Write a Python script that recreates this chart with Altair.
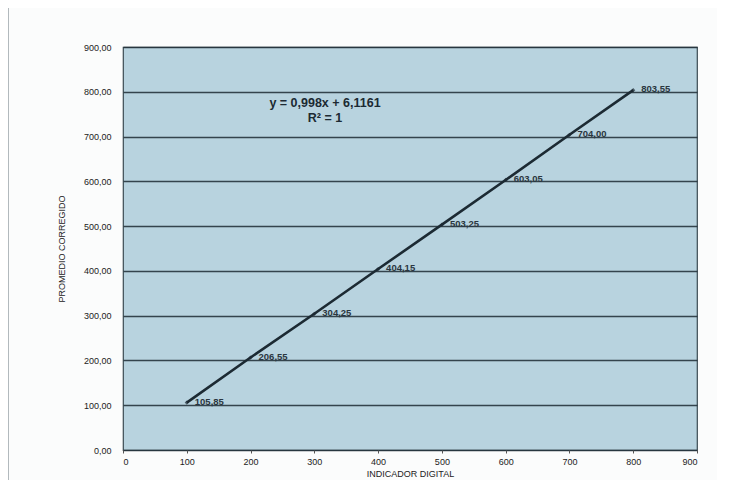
import altair as alt
import pandas as pd

indicador = [100, 200, 300, 400, 500, 600, 700, 800]
promedio = [105.85, 206.55, 304.25, 404.15, 503.25, 603.05, 704.00, 803.55]
etiquetas = ["105,85", "206,55", "304,25", "404,15", "503,25", "603,05", "704,00", "803,55"]
ecuacion = ["y = 0,998x + 6,1161", "R² = 1"]

df = pd.DataFrame({"x": indicador, "y": promedio, "lab": etiquetas})

FONT = "Liberation Sans"
DARK = "#1c2a33"

xs = alt.X("x:Q", scale=alt.Scale(domain=[0, 900], nice=False),
           axis=alt.Axis(title="INDICADOR DIGITAL", values=list(range(0, 1000, 100)),
                         grid=False, domain=False, ticks=True, tickSize=3, tickColor="#555",
                         labelFont=FONT, labelFontSize=9, labelColor="#222", labelPadding=4,
                         titleFont=FONT, titleFontSize=9, titleFontWeight="normal",
                         titleColor="#222", titlePadding=3))
ys = alt.Y("y:Q", scale=alt.Scale(domain=[0, 900], nice=False),
           axis=alt.Axis(title="PROMEDIO CORREGIDO", values=list(range(0, 1000, 100)),
                         grid=True, gridColor="#26343d", gridWidth=1.3, gridOpacity=0.9,
                         domain=False, ticks=False,
                         labelExpr="replace(format(datum.value, '.2f'), '.', ',')",
                         labelFont=FONT, labelFontSize=9, labelColor="#222", labelPadding=12,
                         titleFont=FONT, titleFontSize=9, titleFontWeight="normal",
                         titleColor="#222", titlePadding=17))

line = alt.Chart(df).mark_line(color=DARK, strokeWidth=2.6).encode(x=xs, y=ys)
pts = alt.Chart(df).mark_point(shape="diamond", filled=True, color=DARK, size=18).encode(x="x:Q", y="y:Q")
labels = alt.Chart(df).mark_text(align="left", baseline="middle", dx=8, dy=-1,
                                 font=FONT, fontSize=9.5, fontWeight="bold", color="#2a3640").encode(
    x="x:Q", y="y:Q", text="lab:N")

eq1_df = pd.DataFrame({"t": [ecuacion[0]]})
eq2_df = pd.DataFrame({"t": [ecuacion[1]]})
eq1 = alt.Chart(eq1_df).mark_text(align="center", baseline="middle", font=FONT, fontSize=12.5,
                                  fontWeight="bold", color=DARK).encode(
    x=alt.value(202), y=alt.value(56), text="t:N")
eq2 = alt.Chart(eq2_df).mark_text(align="center", baseline="middle", font=FONT, fontSize=12.5,
                                  fontWeight="bold", color=DARK).encode(
    x=alt.value(202), y=alt.value(71), text="t:N")

frame = alt.Chart(eq1_df).mark_rule(color="#9aa3a8", strokeWidth=1.5).encode(
    x=alt.value(-115), y=alt.value(-39), y2=alt.value(437))

chart = alt.layer(line, pts, labels, eq1, eq2, frame).properties(
    width=574, height=403,
    autosize=alt.AutoSizeParams(type="none"),
    padding={"left": 115, "top": 39, "right": 20, "bottom": 30},
    background="#fbfcfc",
).configure_view(fill="#b8d3df", stroke="#3a4a52", strokeWidth=1.2)

chart.save("out.html", embed_options={"renderer": "svg", "actions": False})
